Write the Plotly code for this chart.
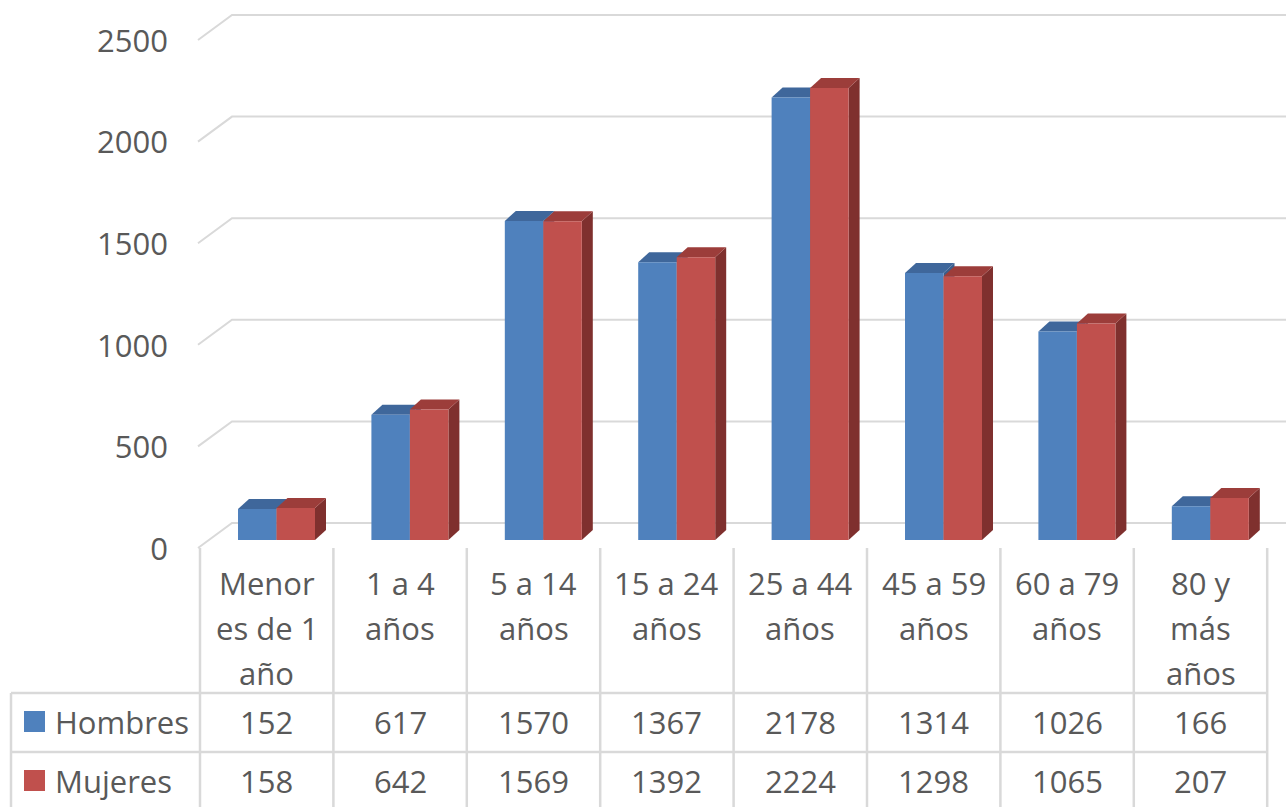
import plotly.graph_objects as go

# ---------------- data ----------------
categories = ["Menor<br>es de 1<br>año", "1 a 4<br>años", "5 a 14<br>años", "15 a 24<br>años",
              "25 a 44<br>años", "45 a 59<br>años", "60 a 79<br>años", "80 y<br>más<br>años"]
series_names = ["Hombres", "Mujeres"]
hombres = [152, 617, 1570, 1367, 2178, 1314, 1026, 166]
mujeres = [158, 642, 1569, 1392, 2224, 1298, 1065, 207]
y_ticks = [0, 500, 1000, 1500, 2000, 2500]

# ---------------- styling / geometry ----------------
W, H = 1286, 807
COL_PX = 133.4          # pixel width of one category column
COL0_PX = 200           # pixel x of left edge of first column
K = 0.2032              # pixels per value unit
BASE_PX = 540           # pixel y of bar bottoms (bar plane)
FRONT_PX = 548          # pixel y of front floor edge
BACK_PX = 523           # pixel y of back-wall floor
WALL_FRONT_X = 198
WALL_BACK_X = 232

front_cols = ["#4F81BD", "#C0504D"]
top_cols = ["#3F679B", "#9C3D3A"]
side_cols = ["#3A5E8C", "#7F302E"]
grid_col = "#D9D9D9"
text_col = "#595959"
FONT = "Open Sans"
FS = 31

BAR_W = 0.2886
OFFSETS = [-0.2151, -0.2151 + BAR_W]
DX = 11 / COL_PX
DY = 10 / K


def xd(px):
    return (px - COL0_PX) / COL_PX - 0.5


def yd(py):
    return (BASE_PX - py) / K


fig = go.Figure()
values = [hombres, mujeres]
n = len(categories)
xs = list(range(n))

for s, (name, vals) in enumerate(zip(series_names, values)):
    fig.add_trace(go.Bar(
        x=xs, y=vals, name=name, width=BAR_W, offset=OFFSETS[s],
        marker=dict(color=front_cols[s], line=dict(width=0)),
        showlegend=False,
        hovertemplate=name + ": %{y}<extra></extra>",
    ))

shapes = []
# back-wall gridlines with diagonal side-wall part
for v in y_ticks:
    yb = v + yd(BACK_PX)
    yf = v + yd(FRONT_PX)
    shapes.append(dict(type="path", xref="x", yref="y", layer="below",
                       path=f"M {xd(WALL_FRONT_X)},{yf} L {xd(WALL_BACK_X)},{yb} L {xd(W)},{yb}",
                       line=dict(color=grid_col, width=2)))

# 3D faces (top and side) of each bar
for i in range(n):
    for s in range(2):
        v = values[s][i]
        x0 = i + OFFSETS[s]
        x1 = x0 + BAR_W
        side = f"M {x1},0 L {x1 + DX},{DY} L {x1 + DX},{v + DY} L {x1},{v} Z"
        top = f"M {x0},{v} L {x1},{v} L {x1 + DX},{v + DY} L {x0 + DX},{v + DY} Z"
        shapes.append(dict(type="path", xref="x", yref="y", layer="below", path=side,
                           fillcolor=side_cols[s], line=dict(width=0)))
        shapes.append(dict(type="path", xref="x", yref="y", layer="below", path=top,
                           fillcolor=top_cols[s], line=dict(width=0)))

# data table grid
TABLE_LEFT_PX = 11
ROW1_PX, ROW2_PX = 693, 752
for j in range(n + 1):
    shapes.append(dict(type="line", xref="x", yref="y", x0=j - 0.5, x1=j - 0.5,
                       y0=yd(FRONT_PX), y1=yd(H + 5), line=dict(color=grid_col, width=2.5)))
shapes.append(dict(type="line", xref="x", yref="y", x0=xd(TABLE_LEFT_PX), x1=xd(TABLE_LEFT_PX),
                   y0=yd(ROW1_PX), y1=yd(H + 5), line=dict(color=grid_col, width=2.5)))
for rp in (ROW1_PX, ROW2_PX):
    shapes.append(dict(type="line", xref="x", yref="y", x0=xd(TABLE_LEFT_PX), x1=n - 0.5,
                       y0=yd(rp), y1=yd(rp), line=dict(color=grid_col, width=2.5)))

annotations = []
# category labels (each line placed separately)
LINE0_PX, LINE_STEP = 583, 45
for i, lab in enumerate(categories):
    for k, part in enumerate(lab.split("<br>")):
        annotations.append(dict(x=i, y=yd(LINE0_PX + k * LINE_STEP), xref="x", yref="y",
                                text=part, showarrow=False, xanchor="center", yanchor="middle",
                                font=dict(family=FONT, size=FS, color=text_col)))

# table values and legend keys
row_centers = [722, 781]
KEY_X0, KEY_X1 = 24, 45
for s, (name, vals) in enumerate(zip(series_names, values)):
    yc = row_centers[s]
    for i, v in enumerate(vals):
        annotations.append(dict(x=i, y=yd(yc), xref="x", yref="y", text=str(v), showarrow=False,
                                xanchor="center", yanchor="middle",
                                font=dict(family=FONT, size=FS, color=text_col)))
    annotations.append(dict(x=xd(53), y=yd(yc), xref="x", yref="y", text=name, showarrow=False,
                            xanchor="left", yanchor="middle",
                            font=dict(family=FONT, size=FS, color=text_col)))
    shapes.append(dict(type="rect", xref="x", yref="y", x0=xd(KEY_X0), x1=xd(KEY_X1),
                       y0=yd(yc - 11), y1=yd(yc + 10), fillcolor=front_cols[s], line=dict(width=0)))

fig.update_layout(
    width=W, height=H,
    margin=dict(l=0, r=0, t=0, b=0),
    paper_bgcolor="white", plot_bgcolor="white",
    barmode="overlay",
    xaxis=dict(range=[xd(0), xd(W)], visible=False, fixedrange=True),
    yaxis=dict(range=[yd(H), yd(0)], anchor="free", position=WALL_FRONT_X / W,
               tickvals=y_ticks, ticktext=[str(t) for t in y_ticks],
               showgrid=False, zeroline=False, showline=False, ticks="",
               ticklabelstandoff=30, ticklabelshift=9,
               tickfont=dict(family=FONT, size=FS, color=text_col), fixedrange=True),
    shapes=shapes,
    annotations=annotations,
    showlegend=False,
    font=dict(family=FONT, color=text_col),
)

fig.write_html(
    "out.html",
    config={"displayModeBar": False},
    post_script="document.body.style.margin='0';document.body.style.overflow='hidden';",
)
